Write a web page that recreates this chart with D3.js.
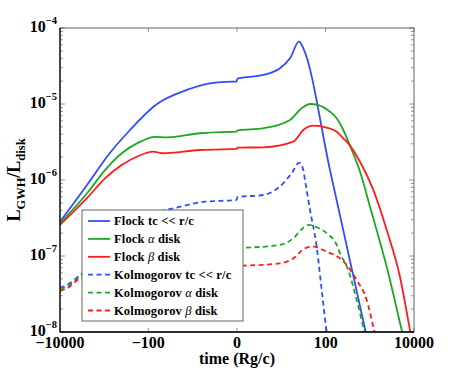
<!DOCTYPE html>
<html>
<head>
<meta charset="utf-8">
<script src="https://cdn.jsdelivr.net/npm/d3@7"></script>
<style>
  body { margin: 0; background: #fff; }
  svg text { font-family: "Liberation Serif", "DejaVu Serif", serif; font-weight: bold; }
</style>
</head>
<body>
<div id="wrapper"></div>
<script>
// tick values
const xTicks = [-10000, -100, 0, 100, 10000];
const xTickLabels = ["\u221210000", "\u2212100", "0", "100", "10000"];
const yTicks = [1e-8, 1e-7, 1e-6, 1e-5, 1e-4];
const yTickExps = ["\u22128", "\u22127", "\u22126", "\u22125", "\u22124"];

// series: [time (Rg/c), L_GWH/L_disk]
const flockTc = [[-10000, 2.82e-7], [-2292, 9.05e-7], [-809, 2.13e-6], [-261, 4.55e-6], [-66.7, 9.8e-6],
  [-12.7, 1.53e-5], [-3.08, 1.87e-5], [-0.71, 1.96e-5], [-0.02, 1.97e-5], [0.02, 2.15e-5],
  [2.93, 2.41e-5], [8.37, 2.95e-5], [14.8, 4.0e-5], [24.2, 6.6e-5], [30.5, 5.4e-5],
  [125.4, 1.35e-6], [941, 6.7e-9]];
const flockAlpha = [[-10000, 2.69e-7], [-2292, 7.0e-7], [-961, 1.35e-6], [-402, 2.25e-6], [-169, 3.10e-6],
  [-70.3, 3.70e-6], [-37.8, 3.63e-6], [-5.86, 4.12e-6], [-0.44, 4.30e-6], [-0.02, 4.32e-6],
  [0.02, 4.5e-6], [2.93, 4.79e-6], [14.8, 6.15e-6], [28, 8.8e-6], [43.7, 1e-5], [67.8, 9.7e-6],
  [125.4, 7.9e-6], [178, 6.5e-6], [251.5, 4.55e-6], [326.6, 3.19e-6], [601, 1.29e-6],
  [1013, 4.45e-7], [2418, 7.2e-8], [5270, 1.06e-8], [6360, 6.7e-9]];
const flockBeta = [[-10000, 2.56e-7], [-2292, 6.03e-7], [-961, 1.05e-6], [-402, 1.57e-6], [-169, 2.07e-6],
  [-76.9, 2.36e-6], [-49.3, 2.25e-6], [-5.86, 2.48e-6], [-0.3, 2.55e-6], [-0.02, 2.56e-6],
  [0.02, 2.66e-6], [2.93, 2.69e-6], [17.7, 3.19e-6], [30.5, 4.55e-6], [52, 5.18e-6],
  [105.5, 4.88e-6], [178, 4.32e-6], [251.5, 3.54e-6], [326.6, 3.04e-6], [601, 1.74e-6],
  [1203, 7.4e-7], [2418, 2.2e-7], [4830, 5.3e-8], [8120, 1.06e-8], [10000, 5.6e-9]];
const kolmTc = [[-10000, 3.76e-8], [-5942, 4.4e-8], [-3532, 5.6e-8], [-440, 1.89e-7], [-91.5, 3.46e-7],
  [-20.2, 4.38e-7], [-4.29, 5.18e-7], [-0.3, 5.4e-7], [-0.02, 5.46e-7], [0.02, 5.97e-7],
  [2.93, 6.35e-7], [10.1, 9.05e-7], [16.2, 1.23e-6], [24.6, 1.69e-6], [30.5, 1.35e-6],
  [33.4, 1.0e-6], [43.7, 4.03e-7], [62.2, 1.33e-7], [81, 3.57e-8], [105.5, 1e-8], [117, 6.7e-9]];
const kolmAlpha = [[-10000, 3.68e-8], [-5942, 4.2e-8], [-3532, 5.45e-8], [-440, 9.4e-8], [-54, 1.16e-7],
  [-5.86, 1.24e-7], [-0.02, 1.24e-7], [0.02, 1.28e-7], [0.66, 1.29e-7], [8.37, 1.40e-7],
  [17.7, 1.71e-7], [28, 2.25e-7], [39.9, 2.56e-7], [62.2, 2.39e-7], [105.5, 2.0e-7],
  [178, 1.40e-7], [211.7, 1.09e-7], [326.6, 6.5e-8], [506, 2.64e-8], [741, 1.06e-8], [898, 6.7e-9]];
const kolmBeta = [[-10000, 3.46e-8], [-5942, 3.97e-8], [-3532, 5.1e-8], [-440, 6.5e-8], [-54, 7.2e-8],
  [-5.86, 7.3e-8], [-0.02, 7.3e-8], [0.02, 7.45e-8], [0.66, 7.5e-8], [8.37, 8.0e-8],
  [17.7, 9.3e-8], [33.4, 1.26e-7], [52, 1.33e-7], [105.5, 1.14e-7], [211.7, 9.3e-8],
  [326.6, 7.2e-8], [506, 4.8e-8], [853, 2.64e-8], [1203, 1.17e-8], [1519, 6.7e-9]];

const legendNames = [
  ["Flock tc << r/c"], ["Flock ", "\u03b1", " disk"], ["Flock ", "\u03b2", " disk"],
  ["Kolmogorov tc << r/c"], ["Kolmogorov ", "\u03b1", " disk"], ["Kolmogorov ", "\u03b2", " disk"]
];

const blue = "#2d4dff", green = "#1fa81f", red = "#ff1c1c";
const series = [
  {data: flockTc, color: blue, dash: null},
  {data: flockAlpha, color: green, dash: null},
  {data: flockBeta, color: red, dash: null},
  {data: kolmTc, color: blue, dash: "5,3.5"},
  {data: kolmAlpha, color: green, dash: "5,3.5"},
  {data: kolmBeta, color: red, dash: "5,3.5"}
];

var margin = {top: 28, right: 43, bottom: 42, left: 60},
    width = 457 - margin.left - margin.right,
    height = 374 - margin.top - margin.bottom;

var svg = d3.select("#wrapper").append("svg")
    .attr("width", 457).attr("height", 374)
    .attr("font-family", "Liberation Serif")
  .append("g")
    .attr("transform", "translate(" + margin.left + "," + margin.top + ")");

var x = d3.scaleSymlog().constant(1).domain([-10000, 10000]).range([0, width]);
var y = d3.scaleLog().domain([1e-8, 1e-4]).range([height, 0]);

svg.append("clipPath").attr("id", "clip")
  .append("rect").attr("width", width).attr("height", height);

/* minor + major ticks on left and right, inside the box */
var minor = [];
for (var k = -8; k < -4; k++) for (var m = 2; m <= 9; m++) minor.push(m * Math.pow(10, k));
var tickG = svg.append("g").attr("stroke", "#7a7a7a").attr("stroke-width", 0.8);
minor.forEach(function(v) {
  tickG.append("line").attr("x1", 0).attr("x2", 3).attr("y1", y(v)).attr("y2", y(v));
  tickG.append("line").attr("x1", width).attr("x2", width - 3).attr("y1", y(v)).attr("y2", y(v));
});
yTicks.forEach(function(v) {
  tickG.append("line").attr("x1", 0).attr("x2", 5).attr("y1", y(v)).attr("y2", y(v));
  tickG.append("line").attr("x1", width).attr("x2", width - 5).attr("y1", y(v)).attr("y2", y(v));
});
xTicks.forEach(function(v) {
  tickG.append("line").attr("x1", x(v)).attr("x2", x(v)).attr("y1", height).attr("y2", height - 4);
  tickG.append("line").attr("x1", x(v)).attr("x2", x(v)).attr("y1", 0).attr("y2", 4);
});

/* curves */
var line = d3.line()
  .x(function(d) { return x(d[0]); })
  .y(function(d) { return y(d[1]); })
  .curve(d3.curveMonotoneX);

svg.append("g").attr("clip-path", "url(#clip)")
  .selectAll("path")
  .data(series)
  .enter()
  .append("path")
    .attr("d", function(d) { return line(d.data); })
    .attr("fill", "none")
    .attr("stroke", function(d) { return d.color; })
    .attr("stroke-width", 1.8)
    .attr("stroke-dasharray", function(d) { return d.dash; });

/* box */
svg.append("rect").attr("width", width).attr("height", height)
  .attr("fill", "none").attr("stroke", "#555").attr("stroke-width", 0.9);
svg.append("line").attr("x1", 0).attr("x2", 0).attr("y1", 0).attr("y2", height)
  .attr("stroke", "#000").attr("stroke-width", 1.2);
svg.append("line").attr("x1", 0).attr("x2", width).attr("y1", height).attr("y2", height)
  .attr("stroke", "#000").attr("stroke-width", 1.5);

/* tick labels */
svg.selectAll("xlab").data(xTicks).enter()
  .append("text")
    .attr("x", function(d) { return x(d); })
    .attr("y", height + 16)
    .attr("text-anchor", "middle")
    .style("font-size", "16px")
    .text(function(d, i) { return xTickLabels[i]; });

var yl = svg.selectAll("ylab").data(yTicks).enter()
  .append("text")
    .attr("x", -3)
    .attr("y", function(d) { return y(d) + 4; })
    .attr("text-anchor", "end")
    .style("font-size", "16px");
yl.append("tspan").text("10");
yl.append("tspan").attr("dy", -8).style("font-size", "10.5px").text(function(d, i) { return yTickExps[i]; });

/* axis titles */
svg.append("text")
  .attr("x", x(0)).attr("y", height + 32)
  .attr("text-anchor", "middle")
  .style("font-size", "16px")
  .text("time (Rg/c)");

var yt = svg.append("text")
  .attr("transform", "translate(" + (20 - margin.left) + "," + (180 - margin.top) + ")rotate(-90)")
  .attr("text-anchor", "middle")
  .style("font-size", "18px");
yt.append("tspan").text("L");
yt.append("tspan").attr("dy", 5).style("font-size", "12.5px").text("GWH");
yt.append("tspan").attr("dy", -5).text("/L");
yt.append("tspan").attr("dy", 5).style("font-size", "12.5px").text("disk");

/* legend */
var lg = svg.append("g").attr("transform", "translate(" + (82 - margin.left) + "," + (210 - margin.top) + ")");
lg.append("rect").attr("width", 161).attr("height", 111)
  .attr("fill", "#fff").attr("stroke", "#666").attr("stroke-width", 1);
series.forEach(function(s, i) {
  var cy = 11 + i * 17.9;
  lg.append("line").attr("x1", 6).attr("x2", 28).attr("y1", cy).attr("y2", cy)
    .attr("stroke", s.color).attr("stroke-width", 1.8).attr("stroke-dasharray", s.dash);
  var t = lg.append("text").attr("x", 32).attr("y", cy + 4)
    .style("font-size", "12.5px").style("letter-spacing", "0.15px");
  legendNames[i].forEach(function(part) {
    var sp = t.append("tspan").text(part);
    if (part === "\u03b1" || part === "\u03b2") sp.style("font-style", "italic").style("font-weight", "normal");
  });
});
</script>
</body>
</html>
